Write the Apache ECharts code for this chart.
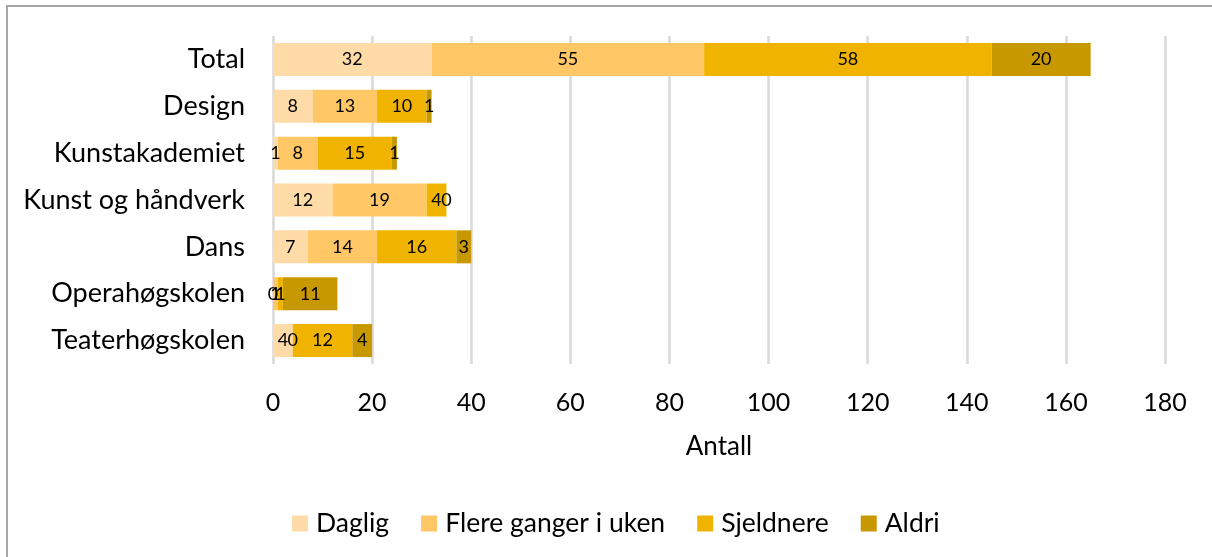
<!DOCTYPE html>
<html><head><meta charset="utf-8">
<script src="https://cdn.jsdelivr.net/npm/echarts@6/dist/echarts.min.js"></script>
<style>
html,body{margin:0;padding:0;background:#fff;overflow:hidden;}
#frame{position:absolute;left:6px;top:5px;width:1240px;height:600px;border-left:2px solid #a6a6a6;border-top:2px solid #a6a6a6;}
#chart{position:absolute;left:0;top:0;width:1212px;height:557px;}
</style></head>
<body>
<div id="frame"></div>
<div id="chart"></div>
<script>
const categories = ["Total","Design","Kunstakademiet","Kunst og håndverk","Dans","Operahøgskolen","Teaterhøgskolen"];
const seriesNames = ["Daglig","Flere ganger i uken","Sjeldnere","Aldri"];
const daglig = [32, 8, 1, 12, 7, 0, 4];
const flere = [55, 13, 8, 19, 14, 1, 0];
const sjeldnere = [58, 10, 15, 4, 16, 1, 12];
const aldri = [20, 1, 1, 0, 3, 11, 4];
const xTicks = [0,20,40,60,80,100,120,140,160,180];
const colors = ["#FFDBA8","#FFC766","#F0B400","#C89800"];

const font = "Lato, 'Open Sans', sans-serif";
const values = [daglig, flere, sjeldnere, aldri];
const chart = echarts.init(document.getElementById('chart'));
chart.setOption({
  animation:false,
  textStyle:{fontFamily:font},
  grid:{left:273,right:47,top:36,bottom:193,containLabel:false},
  legend:{
    top:505, left:287, itemWidth:16, itemHeight:16, itemGap:32,
    icon:'rect',
    textStyle:{fontSize:26.5,color:'#000',fontFamily:font,padding:[0,0,0,3]},
    data:seriesNames
  },
  xAxis:{
    type:'value', min:xTicks[0], max:xTicks[xTicks.length-1], interval:20,
    name:'Antall', nameLocation:'middle', nameGap:70,
    nameTextStyle:{fontSize:26,color:'#000',fontFamily:font},
    axisLabel:{fontSize:25,color:'#000',margin:26,fontFamily:font},
    axisLine:{show:false}, axisTick:{show:false},
    splitLine:{lineStyle:{color:'#d9d9d9',width:2.5}}
  },
  yAxis:{
    type:'category', data:categories, inverse:true,
    axisLine:{show:false}, axisTick:{show:false},
    axisLabel:{fontSize:27,color:'#000',margin:28,fontFamily:font}
  },
  series: seriesNames.map((n,i)=>({
    name:n, type:'bar', stack:'a', data:values[i], barWidth:33,
    itemStyle:{color:colors[i]},
    label:{show:true,position:'inside',fontSize:18,color:'#000',fontFamily:font}
  }))
});
</script>
</body></html>
